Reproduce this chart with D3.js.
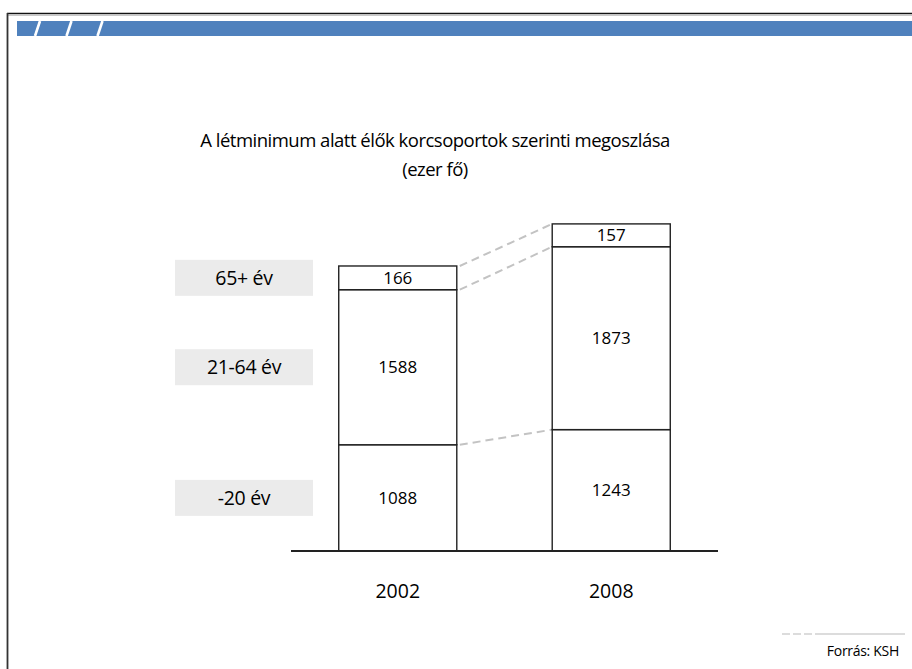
<!DOCTYPE html>
<html>
<head>
<meta charset="utf-8">
<script src="https://cdn.jsdelivr.net/npm/d3@7"></script>
<style>
    html, body { margin: 0; padding: 0; background: #fff; }
    svg { display: block; font-family: "Open Sans", "Noto Sans", sans-serif; }
</style>
</head>
<body>
<div class="container"></div>
<script>
// adatok (ezer fő)
const years = ['2002', '2008'];
const groups = ['-20 év', '21-64 év', '65+ év'];
const under20 = [1088, 1243];
const age21to64 = [1588, 1873];
const over65 = [166, 157];

const width = 912,
    height = 669,
    labelPad = 7.5;

const rows = years.map((y, i) => ({
    year: y,
    '-20 év': under20[i],
    '21-64 év': age21to64[i],
    '65+ év': over65[i]
}));

const series = d3.stack().keys(groups)(rows);

const x = d3.scaleBand()
    .domain(years)
    .range([291, 718])
    .paddingInner(0.447)
    .paddingOuter(0.2236);

const y = d3.scaleLinear()
    .domain([0, 3400])
    .range([551, 219]);

// top segment gets extra room so its label fits
function segTop(layer, d) {
    if (layer.index === groups.length - 1) {
        return y(d[0]) - (y(0) - y(d[1] - d[0])) - labelPad;
    }
    return y(d[1]);
}
function segBottom(layer, d) {
    return y(d[0]);
}

const svg = d3.select('.container')
    .append('svg')
    .attr('width', width)
    .attr('height', height);

// frame + banner
svg.append('line')
    .attr('x1', 7).attr('x2', width).attr('y1', 15.5).attr('y2', 15.5)
    .attr('stroke', '#c8c8c8').attr('stroke-width', 1);
svg.append('line')
    .attr('x1', 7).attr('x2', width).attr('y1', 13.5).attr('y2', 13.5)
    .attr('stroke', '#111').attr('stroke-width', 1.6);
svg.append('line')
    .attr('x1', 7.5).attr('x2', 7.5).attr('y1', 13).attr('y2', height)
    .attr('stroke', '#333').attr('stroke-width', 1.8);

svg.append('rect')
    .attr('x', 17).attr('y', 21)
    .attr('width', width - 17).attr('height', 15)
    .attr('fill', '#4f81bd');

svg.selectAll('.slash')
    .data([37.5, 69, 100])
    .enter()
    .append('line')
    .attr('class', 'slash')
    .attr('x1', d => d - 2.5).attr('y1', 36)
    .attr('x2', d => d + 2.5).attr('y2', 21)
    .attr('stroke', '#fff')
    .attr('stroke-width', 2.6);

// title
const title = svg.append('text')
    .attr('x', 435)
    .attr('text-anchor', 'middle')
    .attr('fill', '#000')
    .style('font-size', '18.5px')
    .style('letter-spacing', '-0.5px');
title.append('tspan').attr('x', 435).attr('y', 147)
    .text('A létminimum alatt élők korcsoportok szerinti megoszlása');
title.append('tspan').attr('x', 435).attr('y', 176)
    .text('(ezer fő)');

// category boxes, aligned with first bar
const first = series.map(layer => ({
    name: layer.key,
    mid: (segTop(layer, layer[0]) + segBottom(layer, layer[0])) / 2
}));

const catG = svg.selectAll('.cat')
    .data(first)
    .enter()
    .append('g')
    .attr('class', 'cat')
    .attr('transform', d => `translate(244, ${d.mid})`);

catG.append('rect')
    .attr('x', -69).attr('y', -18)
    .attr('width', 138).attr('height', 36)
    .attr('fill', '#ebebeb');

catG.append('text')
    .attr('text-anchor', 'middle')
    .attr('dy', '0.36em')
    .attr('fill', '#000')
    .style('font-size', '19.5px')
    .style('letter-spacing', '-0.3px')
    .text(d => d.name);

// connectors between bars
const connectors = series.map(layer => ({
    y1: segTop(layer, layer[0]),
    y2: segTop(layer, layer[1])
}));

svg.selectAll('.conn')
    .data(connectors)
    .enter()
    .append('line')
    .attr('class', 'conn')
    .attr('x1', x(years[0]) + x.bandwidth() + 3)
    .attr('x2', x(years[1]))
    .attr('y1', d => d.y1)
    .attr('y2', d => d.y2)
    .attr('stroke', '#c3c3c3')
    .attr('stroke-width', 2)
    .attr('stroke-dasharray', '8,5');

// bars
const layers = svg.selectAll('.layer')
    .data(series)
    .enter()
    .append('g')
    .attr('class', 'layer');

layers.selectAll('rect')
    .data(layer => layer.map(d => ({ layer, d })))
    .enter()
    .append('rect')
    .attr('x', o => x(o.d.data.year))
    .attr('width', x.bandwidth())
    .attr('y', o => segTop(o.layer, o.d))
    .attr('height', o => segBottom(o.layer, o.d) - segTop(o.layer, o.d))
    .attr('fill', '#fff')
    .attr('stroke', '#222')
    .attr('stroke-width', 1.4);

layers.selectAll('text')
    .data(layer => layer.map(d => ({ layer, d })))
    .enter()
    .append('text')
    .attr('x', o => x(o.d.data.year) + x.bandwidth() / 2)
    .attr('y', o => (segTop(o.layer, o.d) + segBottom(o.layer, o.d)) / 2)
    .attr('dy', '0.36em')
    .attr('text-anchor', 'middle')
    .attr('fill', '#000')
    .style('font-size', '17px')
    .text(o => o.d[1] - o.d[0]);

// baseline + year axis
svg.append('line')
    .attr('x1', 291).attr('x2', 718)
    .attr('y1', y(0)).attr('y2', y(0))
    .attr('stroke', '#222')
    .attr('stroke-width', 1.8);

const xAxis = svg.append('g')
    .attr('transform', `translate(0, ${y(0)})`)
    .call(d3.axisBottom(x).tickSize(0).tickPadding(33));
xAxis.select('.domain').remove();
xAxis.selectAll('text')
    .attr('fill', '#000')
    .style('font-size', '19.5px')
    .style('font-family', '"Open Sans", sans-serif');

// source
svg.append('line')
    .attr('x1', 782).attr('x2', 905).attr('y1', 634).attr('y2', 634)
    .attr('stroke', '#dcdcdc').attr('stroke-width', 2)
    .attr('stroke-dasharray', '8,3,8,3,8,3,200');

svg.append('text')
    .attr('x', 899).attr('y', 656)
    .attr('text-anchor', 'end')
    .attr('fill', '#000')
    .style('font-size', '14px')
    .style('letter-spacing', '-0.3px')
    .text('Forrás: KSH');
</script>
</body>
</html>
